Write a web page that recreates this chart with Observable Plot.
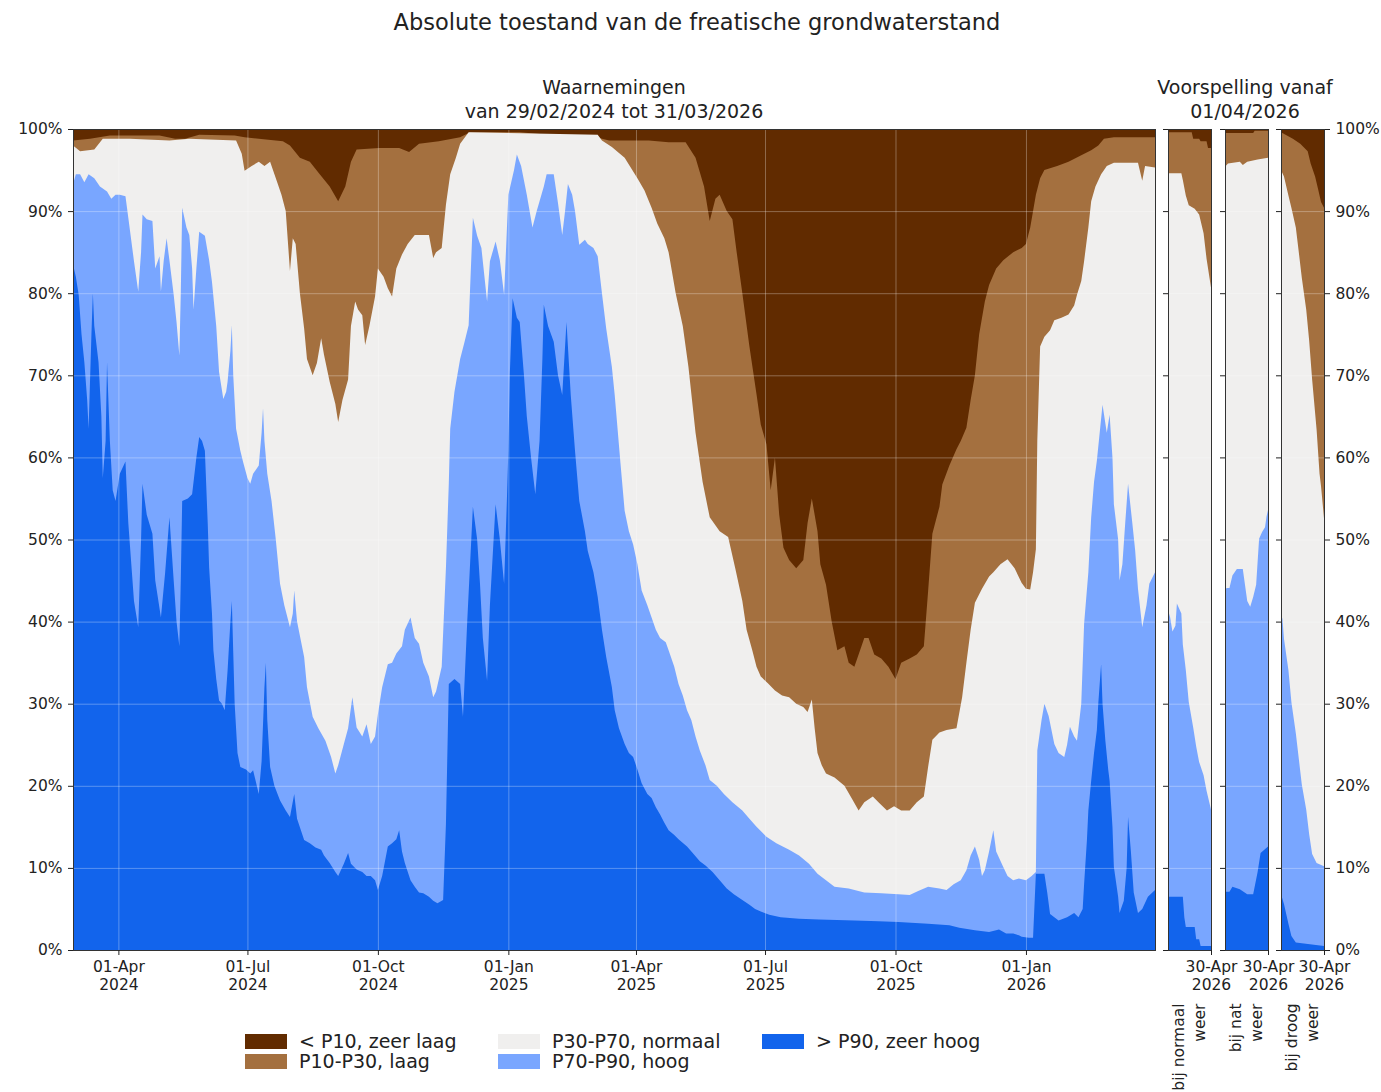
<!DOCTYPE html>
<html><head><meta charset="utf-8">
<script src="https://cdn.jsdelivr.net/npm/d3@7"></script>
<script src="https://cdn.jsdelivr.net/npm/@observablehq/plot@0.6"></script>
<style>
body{margin:0;background:#fff;font-family:"DejaVu Sans",sans-serif;color:#222;}
#root{position:relative;width:1381px;height:1092px;overflow:hidden;background:#fff;}
.abs{position:absolute;white-space:pre;}
</style></head><body><div id="root"></div>
<script>
// ---------- DATA ----------
const titel = "Absolute toestand van de freatische grondwaterstand";
const kopWaarnemingen = "Waarnemingen\nvan 29/02/2024 tot 31/03/2026";
const kopVoorspelling = "Voorspelling vanaf\n01/04/2026";
const klassen = ["< P10, zeer laag", "P10-P30, laag", "P30-P70, normaal", "P70-P90, hoog", "> P90, zeer hoog"];
const kleuren = ["#612b00", "#a4703f", "#f0efee", "#79a6ff", "#1264ec"];
const yTicks = [0,10,20,30,40,50,60,70,80,90,100];
const xTickDates = ["2024-04-01","2024-07-01","2024-10-01","2025-01-01","2025-04-01","2025-07-01","2025-10-01","2026-01-01"];
const fcTickDates = ["2026-04-30"];
const scenarioLabels = ["bij normaal\nweer", "bij nat\nweer", "bij droog\nweer"];

// Observations: [days since 29/02/2024, cumulative %] (last step ends 01/04/2026)
const obsTopLaag = [[0,98.6],[12,98.8],[26,99.2],[61,99.2],[72,98.8],[79,98.8],[89,99.3],[114,99.2],[121,99.0],[148,98.5],[153,98.0],[160,96.5],[167,96.0],[174,94.5],[181,93.0],[187,91.2],[192,93.0],[196,96.0],[200,97.5],[216,97.7],[230,97.7],[237,97.2],[244,98.2],[258,98.5],[273,99.0],[280,99.6],[315,99.6],[329,99.4],[343,99.2],[371,98.9],[378,98.6],[406,98.6],[420,98.4],[432,98.4],[439,96.5],[445,93.0],[449,88.8],[453,91.5],[456,92.0],[461,90.0],[465,89.0],[468,85.0],[472,80.0],[477,73.5],[482,67.7],[485,64.0],[489,61.6],[492,56.0],[495,60.0],[498,53.0],[501,49.0],[505,47.5],[510,46.5],[515,47.5],[518,52.0],[521,55.0],[525,51.0],[527,47.0],[531,44.5],[535,40.0],[539,36.5],[544,37.0],[547,35.0],[551,34.5],[554,36.0],[558,38.0],[561,38.0],[565,36.0],[570,35.5],[575,34.5],[580,33.0],[584,35.0],[590,35.5],[595,36.0],[600,37.0],[603,43.7],[606,50.7],[611,54.0],[613,56.7],[618,59.0],[623,61.0],[626,62.0],[630,63.6],[633,67.0],[636,70.0],[639,75.0],[643,79.0],[646,81.0],[651,83.0],[656,84.0],[663,85.0],[669,85.5],[672,86.0],[675,88.0],[679,92.0],[682,94.0],[685,95.0],[694,95.5],[702,96.0],[711,96.8],[718,97.4],[723,98.0],[727,98.8],[734,99.0],[763,99.0]];

const obsTopNormaal = [[0,98.0],[5,97.3],[15,97.5],[21,98.8],[40,98.8],[68,98.6],[82,98.8],[115,98.6],[119,97.0],[121,94.9],[126,95.5],[131,96.0],[135,95.5],[139,96.0],[144,93.5],[147,92.0],[150,90.0],[153,82.7],[155,86.7],[157,86.0],[160,80.0],[163,75.7],[165,72.0],[169,70.0],[172,71.5],[175,74.5],[177,72.5],[181,69.2],[185,66.5],[187,64.3],[190,67.0],[194,69.5],[196,76.0],[199,79.0],[201,78.0],[204,77.3],[206,73.7],[209,76.0],[213,79.6],[215,83.0],[219,82.0],[222,80.6],[225,79.6],[228,83.0],[232,84.7],[236,86.0],[241,87.1],[251,87.1],[254,84.3],[256,85.0],[260,85.5],[263,90.8],[266,94.5],[270,96.5],[273,98.2],[279,99.6],[370,99.3],[373,98.6],[380,97.8],[389,96.5],[398,94.0],[403,92.5],[408,90.4],[412,88.5],[417,86.7],[420,85.0],[425,80.0],[430,76.0],[434,71.0],[439,63.0],[444,57.0],[449,52.7],[456,51.0],[462,50.3],[467,46.5],[472,42.5],[475,39.0],[479,36.5],[482,34.5],[485,33.3],[490,32.5],[495,31.6],[500,31.0],[505,30.8],[510,30.0],[515,29.6],[518,29.0],[521,30.5],[523,27.0],[525,24.0],[528,22.5],[531,21.5],[537,21.0],[544,20.0],[549,18.5],[554,17.0],[558,18.0],[564,18.7],[568,18.0],[574,17.0],[579,17.5],[584,17.0],[590,17.0],[595,18.0],[600,18.7],[603,22.3],[606,25.6],[611,26.5],[616,26.8],[623,27.0],[627,30.8],[630,35.0],[633,39.0],[636,42.3],[641,44.0],[646,45.5],[649,46.0],[654,47.0],[659,47.6],[664,46.5],[669,44.7],[672,44.0],[675,43.9],[677,46.0],[679,48.8],[680,62.0],[682,73.5],[685,74.7],[689,75.5],[692,76.7],[697,77.0],[702,77.4],[706,78.5],[708,79.8],[711,81.5],[713,83.9],[716,88.0],[718,91.2],[721,93.0],[725,94.5],[729,95.5],[734,95.9],[751,95.9],[754,93.7],[756,95.5],[763,95.3]];

const obsTopHoog = [[0,93.3],[2,94.5],[5,94.5],[8,93.5],[11,94.5],[15,94.0],[19,93.0],[24,92.4],[27,91.5],[30,92.0],[33,92.0],[37,91.8],[39,89.2],[43,83.9],[46,80.2],[48,85.0],[49,89.6],[52,89.0],[56,88.8],[58,83.0],[61,84.5],[62,80.2],[64,84.0],[66,86.7],[68,84.0],[71,79.8],[73,76.5],[75,72.4],[76,80.0],[77,90.4],[80,88.0],[82,87.1],[84,83.0],[85,78.0],[87,83.0],[89,87.5],[93,87.0],[96,84.0],[98,81.4],[101,76.0],[103,70.4],[106,67.1],[108,68.0],[109,69.2],[111,73.0],[112,76.1],[113,70.0],[115,63.5],[118,60.8],[120,59.4],[123,57.5],[125,56.8],[127,58.0],[131,59.0],[133,63.0],[134,66.0],[135,62.0],[137,58.0],[140,54.7],[143,50.0],[146,44.6],[149,42.0],[153,39.3],[155,41.0],[156,43.8],[158,40.0],[163,35.7],[165,32.0],[169,28.4],[173,27.0],[178,25.5],[182,23.5],[185,21.5],[187,22.5],[191,25.1],[194,27.0],[197,30.8],[200,27.1],[204,26.0],[207,27.5],[210,25.1],[213,26.0],[215,28.7],[218,32.0],[222,34.8],[225,35.0],[228,36.1],[232,37.0],[234,39.0],[238,40.5],[241,38.0],[244,37.3],[247,35.0],[251,33.3],[254,30.8],[256,31.5],[260,34.5],[263,46.6],[265,56.8],[266,63.5],[269,68.0],[273,72.0],[276,74.0],[279,76.1],[282,89.2],[285,87.0],[288,85.5],[292,79.0],[294,83.9],[298,86.3],[301,84.0],[304,79.8],[307,92.0],[311,95.0],[313,96.9],[316,95.5],[320,92.0],[324,88.0],[327,90.0],[329,91.2],[332,93.0],[334,94.5],[339,94.5],[342,91.0],[345,87.1],[347,90.0],[349,93.3],[352,92.0],[354,90.0],[357,85.9],[361,86.5],[363,86.0],[367,85.5],[370,84.5],[373,80.0],[376,75.7],[380,71.0],[382,67.6],[386,59.4],[389,53.5],[392,51.0],[395,49.4],[398,47.0],[401,43.8],[405,42.0],[408,40.5],[411,39.0],[414,38.0],[418,37.5],[420,36.5],[424,34.5],[427,32.4],[430,31.0],[433,29.2],[436,28.0],[439,26.0],[442,24.3],[446,22.5],[449,20.7],[454,20.0],[459,19.0],[465,18.0],[472,17.0],[477,16.0],[482,15.0],[489,13.8],[496,13.0],[505,12.2],[512,11.5],[519,10.5],[525,9.3],[531,8.5],[537,7.7],[547,7.5],[558,7.0],[570,6.9],[582,6.8],[590,6.7],[596,7.2],[603,7.7],[611,7.5],[616,7.3],[621,8.0],[626,8.5],[630,9.7],[633,11.5],[636,12.6],[639,11.0],[641,9.0],[643,9.7],[646,12.0],[649,14.6],[651,12.0],[656,10.1],[659,9.0],[663,8.5],[667,8.7],[672,8.5],[676,9.0],[679,9.5],[680,24.3],[683,28.0],[685,30.0],[688,28.5],[692,25.1],[695,24.0],[699,23.5],[701,25.0],[703,27.2],[706,26.0],[708,25.5],[711,30.0],[713,39.7],[716,46.0],[718,52.7],[720,57.0],[722,59.6],[724,63.0],[726,66.4],[729,63.0],[731,65.2],[733,60.0],[734,54.3],[737,50.0],[738,45.0],[740,47.0],[742,52.0],[744,56.8],[747,52.0],[749,48.7],[751,44.0],[754,39.3],[757,42.0],[759,44.6],[763,46.0]];

const obsTopZeerHoog = [[0,83.5],[2,82.0],[4,79.8],[6,75.0],[8,71.6],[10,67.0],[11,63.5],[13,75.0],[14,80.0],[15,76.0],[18,71.6],[20,65.0],[21,57.5],[23,62.0],[24,71.6],[26,62.0],[28,56.0],[30,54.7],[33,58.0],[37,59.5],[39,52.0],[43,42.5],[46,39.3],[48,50.0],[49,56.8],[52,53.0],[56,50.7],[58,45.0],[62,40.5],[65,46.0],[68,52.7],[71,45.0],[73,40.0],[75,37.0],[76,45.0],[77,54.7],[81,55.0],[84,55.5],[87,60.0],[89,62.5],[91,62.0],[93,60.8],[95,52.0],[96,46.6],[98,41.0],[99,36.5],[101,33.0],[103,30.4],[105,30.0],[107,29.2],[109,34.0],[111,40.0],[112,42.5],[114,30.0],[116,24.0],[118,22.3],[122,22.0],[125,21.5],[127,21.9],[131,19.0],[133,23.0],[135,32.0],[136,35.0],[137,28.0],[139,22.3],[142,20.0],[146,18.2],[150,17.0],[153,16.2],[156,19.0],[158,16.0],[163,13.4],[167,13.0],[171,12.5],[175,12.2],[177,11.5],[181,10.6],[185,9.5],[187,9.0],[191,10.5],[194,11.8],[196,10.5],[200,9.8],[204,9.5],[207,9.0],[210,9.0],[213,8.5],[215,7.3],[218,9.0],[222,12.6],[225,13.0],[228,13.5],[230,14.6],[232,12.0],[234,10.6],[238,8.5],[241,7.7],[244,7.0],[247,6.9],[251,6.5],[254,6.0],[257,5.7],[261,6.1],[263,15.4],[265,32.4],[269,33.0],[273,32.4],[275,28.4],[278,40.0],[282,54.0],[285,50.0],[287,44.6],[289,38.0],[292,32.8],[294,42.0],[298,54.3],[301,50.0],[304,44.6],[306,55.0],[307,60.8],[308,70.0],[310,79.4],[313,77.0],[315,76.5],[318,70.0],[320,65.0],[323,60.0],[326,55.5],[329,62.0],[331,72.0],[332,78.6],[335,76.0],[339,74.1],[342,70.0],[345,67.6],[348,76.5],[351,67.6],[354,60.8],[357,54.7],[361,51.0],[363,48.6],[367,46.0],[370,43.0],[373,39.0],[376,35.7],[380,32.0],[382,29.2],[385,27.0],[389,25.1],[392,24.0],[395,23.5],[398,22.0],[401,20.3],[405,19.0],[408,18.5],[411,17.4],[414,16.5],[417,15.5],[420,14.6],[424,14.0],[427,13.5],[433,12.6],[437,11.8],[442,10.8],[446,10.3],[451,9.5],[456,8.5],[461,7.5],[466,6.8],[472,6.1],[477,5.5],[481,5.0],[485,4.7],[491,4.3],[499,4.0],[512,3.8],[526,3.7],[551,3.6],[568,3.5],[582,3.4],[603,3.2],[618,3.0],[625,2.7],[636,2.4],[646,2.2],[653,2.5],[658,2.0],[663,2.0],[667,1.8],[669,1.6],[674,1.5],[677,1.5],[679,9.3],[685,9.3],[687,7.0],[689,4.4],[695,3.6],[701,4.0],[706,4.5],[709,4.0],[712,5.0],[713,8.0],[715,13.4],[716,17.0],[718,20.6],[720,24.0],[722,26.8],[723,30.0],[725,34.8],[726,30.0],[728,25.5],[730,22.0],[731,20.6],[733,15.0],[734,10.1],[737,6.5],[738,4.5],[741,6.0],[743,10.0],[744,16.2],[746,12.0],[748,7.0],[751,4.5],[754,5.0],[758,6.5],[763,7.3]];

// Forecasts: [days since 01/04/2026, cumulative %]
const fcNormaalTopLaag = [[0,99.6],[16,99.6],[17,98.8],[21,98.8],[22,98.5],[26,98.5],[27,97.7],[29,97.7]];
const fcNormaalTopNormaal = [[0,94.6],[9,94.6],[10,93.8],[12,91.9],[14,90.7],[18,90.3],[21,89.6],[24,87.3],[26,84.2],[29,80.7]];
const fcNormaalTopHoog = [[0,39.5],[1,41.0],[3,38.8],[5,39.5],[6,42.2],[9,41.0],[10,37.2],[12,34.1],[14,30.2],[17,27.1],[19,24.8],[21,22.9],[24,21.3],[26,19.4],[29,17.1]];
const fcNormaalTopZeerHoog = [[0,6.5],[10,6.5],[11,4.0],[12,2.8],[18,2.8],[19,1.3],[21,1.3],[22,0.5],[29,0.5]];

const fcNatTopLaag = [[0,99.5],[19,99.5],[20,99.8],[29,99.8]];
const fcNatTopNormaal = [[0,95.4],[2,95.8],[10,96.0],[12,95.6],[15,96.0],[22,96.3],[29,96.5]];
const fcNatTopHoog = [[0,43.7],[1,44.1],[3,44.1],[5,45.6],[8,46.4],[12,46.4],[15,42.5],[17,41.8],[19,43.0],[21,44.5],[23,50.1],[25,50.9],[27,51.5],[28,52.8],[29,53.6]];
const fcNatTopZeerHoog = [[0,7.1],[3,7.1],[5,7.7],[10,7.4],[15,6.8],[19,6.8],[22,9.5],[24,11.8],[29,12.6]];

const fcDroogTopLaag = [[0,99.6],[4,99.2],[8,98.8],[13,98.2],[18,97.3],[20,95.8],[23,94.2],[25,92.7],[27,91.1],[29,90.4]];
const fcDroogTopNormaal = [[0,95.0],[2,94.2],[5,91.9],[7,90.4],[10,88.0],[12,85.0],[14,81.9],[17,78.0],[19,74.2],[21,69.5],[24,63.4],[26,58.0],[27,56.5],[29,52.6]];
const fcDroogTopHoog = [[0,41.0],[1,40.3],[2,37.9],[5,34.1],[7,30.2],[10,26.4],[12,23.3],[14,20.2],[17,17.1],[19,14.1],[21,11.7],[24,10.6],[29,10.2]];
const fcDroogTopZeerHoog = [[0,6.8],[2,5.6],[5,3.2],[7,1.7],[10,0.9],[29,0.5]];

// ---------- DRAWING ----------
const obsDag = n => new Date(Date.UTC(2024, 1, 29 + n));
const fcDag = n => new Date(Date.UTC(2026, 3, 1 + n));
const fmt = d3.utcFormat("%d-%b\n%Y");
const pct = d => d + "%";
const FONT = "DejaVu Sans";

function lagen(topLaag, topNormaal, topHoog, topZeerHoog, toDate) {
  const x = d => toDate(d[0]);
  return [
    Plot.areaY(topLaag, {x, y1: 0, y2: 100, fill: kleuren[0]}),
    Plot.areaY(topLaag, {x, y1: 0, y2: d => d[1], fill: kleuren[1]}),
    Plot.areaY(topNormaal, {x, y1: 0, y2: d => d[1], fill: kleuren[2]}),
    Plot.areaY(topHoog, {x, y1: 0, y2: d => d[1], fill: kleuren[3]}),
    Plot.areaY(topZeerHoog, {x, y1: 0, y2: d => d[1], fill: kleuren[4]})
  ];
}

const root = document.getElementById("root");
function place(el, left, top) {
  el.style.position = "absolute";
  el.style.left = left + "px";
  el.style.top = top + "px";
  root.appendChild(el);
}
function tekst(str, cx, top, size, lh) {
  const d = document.createElement("div");
  d.className = "abs";
  d.textContent = str;
  d.style.fontSize = size + "px";
  d.style.lineHeight = lh + "px";
  d.style.textAlign = "center";
  d.style.left = cx + "px";
  d.style.top = top + "px";
  d.style.transform = "translateX(-50%)";
  root.appendChild(d);
}

const plotStyle = {fontFamily: FONT, fontSize: "15.5px", color: "#222", background: "transparent", overflow: "visible"};

// main panel
const mainPlot = Plot.plot({
  width: 1160, height: 881,
  marginLeft: 73, marginRight: 5, marginTop: 10, marginBottom: 50,
  style: plotStyle,
  x: {type: "utc", domain: [obsDag(0), obsDag(763)]},
  y: {domain: [0, 100]},
  marks: [
    ...lagen(obsTopLaag, obsTopNormaal, obsTopHoog, obsTopZeerHoog, obsDag),
    Plot.ruleY(yTicks, {stroke: "white", strokeOpacity: 0.3}),
    Plot.ruleX(xTickDates.map(s => new Date(s)), {stroke: "white", strokeOpacity: 0.3}),
    Plot.frame({stroke: "#333"}),
    Plot.axisY(yTicks, {tickFormat: pct, tickSize: 5, tickPadding: 6, label: null}),
    Plot.axisX(xTickDates.map(s => new Date(s)), {tickFormat: fmt, tickSize: 5, tickPadding: 4, label: null, lineHeight: 1.15})
  ]
});
place(mainPlot, 0, 119);

// forecast panels
const fcReeksen = [
  [fcNormaalTopLaag, fcNormaalTopNormaal, fcNormaalTopHoog, fcNormaalTopZeerHoog],
  [fcNatTopLaag, fcNatTopNormaal, fcNatTopHoog, fcNatTopZeerHoog],
  [fcDroogTopLaag, fcDroogTopNormaal, fcDroogTopHoog, fcDroogTopZeerHoog]
];
const panelLeft = [1168, 1225, 1281];
fcReeksen.forEach((r, i) => {
  const rechts = i === 2;
  const p = Plot.plot({
    width: 20 + 43 + (rechts ? 60 : 30), height: 976,
    marginLeft: 20, marginRight: rechts ? 60 : 30, marginTop: 10, marginBottom: 145,
    style: plotStyle,
    x: {type: "utc", domain: [fcDag(0), fcDag(29)]},
    y: {domain: [0, 100]},
    marks: [
      ...lagen(r[0], r[1], r[2], r[3], fcDag),
      Plot.ruleY(yTicks, {stroke: "white", strokeOpacity: 0.3}),
      Plot.frame({stroke: "#333"}),
      Plot.axisY(yTicks, {tickFormat: () => "", tickSize: 5, label: null}),
      rechts ? Plot.axisY(yTicks, {anchor: "right", tickFormat: pct, tickSize: 5, tickPadding: 6, label: null}) : null,
      Plot.axisX(fcTickDates.map(s => new Date(s)), {tickFormat: fmt, tickSize: 5, tickPadding: 4, label: null, lineHeight: 1.15}),
      Plot.text([scenarioLabels[i]], {text: d => d, frameAnchor: "bottom", dy: 53, dx: -2, rotate: -90, textAnchor: "end", lineAnchor: "middle", lineHeight: 1.3, fontSize: 15.5, fill: "#222"})
    ]
  });
  place(p, panelLeft[i] - 20, 119);
});

// titles
tekst(titel, 697, 8, 22.5, 28);
tekst(kopWaarnemingen, 614, 75, 19, 24);
tekst(kopVoorspelling, 1245, 75, 19, 24);

// legend
const legCols = [245, 498, 762];
const legRows = [1041, 1061];
klassen.forEach((k, i) => {
  const col = Math.floor(i / 2), row = i % 2;
  const sw = document.createElement("div");
  sw.style.width = "42px"; sw.style.height = "15px"; sw.style.background = kleuren[i];
  place(sw, legCols[col], legRows[row] - 7);
  const t = document.createElement("div");
  t.className = "abs";
  t.textContent = k;
  t.style.fontSize = "19px"; t.style.lineHeight = "20px";
  place(t, legCols[col] + 54, legRows[row] - 10);
});
</script>
</body></html>
